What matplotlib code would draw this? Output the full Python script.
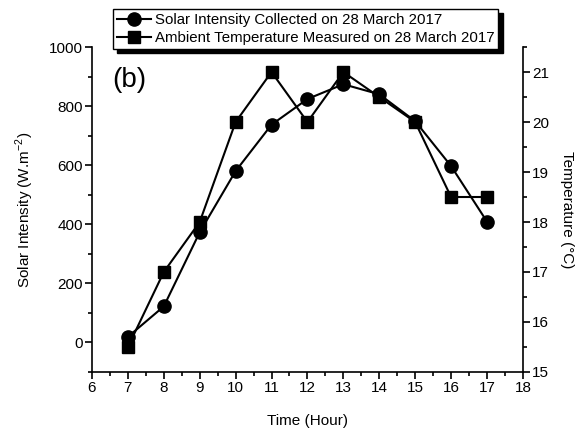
import matplotlib
matplotlib.use("Agg")
import matplotlib.pyplot as plt
from matplotlib.ticker import MultipleLocator

plt.rcParams['font.family'] = ['Liberation Sans', 'DejaVu Sans']
plt.rcParams['mathtext.fontset'] = 'custom'
plt.rcParams['mathtext.rm'] = 'Liberation Sans'

hours = [7, 8, 9, 10, 11, 12, 13, 14, 15, 16, 17]
solar = [19, 122, 373, 580, 737, 824, 874, 840, 749, 597, 409]
temperature = [15.5, 17.0, 18.0, 20.0, 21.0, 20.0, 21.0, 20.5, 20.0, 18.5, 18.5]

solar_label = "Solar Intensity Collected on 28 March 2017"
temp_label = "Ambient Temperature Measured on 28 March 2017"

fig = plt.figure(figsize=(5.81, 4.29), dpi=100)
ax = fig.add_axes([0.1583, 0.1329, 0.7417, 0.7575])
ax2 = ax.twinx()

l1, = ax.plot(hours, solar, color='black', lw=1.5, marker='o', ms=9.5,
              label=solar_label, clip_on=False, zorder=3)
l2, = ax2.plot(hours, temperature, color='black', lw=1.5, marker='s', ms=9,
               label=temp_label, clip_on=False, zorder=3)

ax.set_xlim(6, 18)
ax.set_ylim(-100, 1000)
ax2.set_ylim(15, 21.5)

ax.xaxis.set_major_locator(MultipleLocator(1))
ax.xaxis.set_minor_locator(MultipleLocator(0.5))
ax.yaxis.set_major_locator(MultipleLocator(200))
ax.yaxis.set_minor_locator(MultipleLocator(100))
ax2.yaxis.set_major_locator(MultipleLocator(1))
ax2.yaxis.set_minor_locator(MultipleLocator(0.5))

for a in (ax, ax2):
    a.spines['top'].set_visible(False)
    for s in a.spines.values():
        s.set_linewidth(1.2)
    a.tick_params(which='major', direction='out', length=5, width=1.2, labelsize=11, pad=1.5)
    a.tick_params(which='minor', direction='out', length=3, width=1.2)
ax.spines['right'].set_visible(False)
ax2.spines['left'].set_visible(False)
ax2.spines['bottom'].set_visible(False)

ax.set_xlabel("Time (Hour)", fontsize=11, labelpad=14)
ax.set_ylabel("Solar Intensity (W.m$^{-2}$)", fontsize=11, labelpad=9)
ax2.set_ylabel("Temperature (°C)", fontsize=11, rotation=270, labelpad=18)

ax.text(0.046, 0.90, "(b)", transform=ax.transAxes, fontsize=20,
        ha='left', va='center')

leg = fig.legend([l1, l2], [solar_label, temp_label], loc='upper left',
                 bbox_to_anchor=(113 / 581, 1 - 9 / 429), borderaxespad=0,
                 fontsize=10.8, frameon=True, fancybox=False,
                 shadow={'color': 'black', 'alpha': 1, 'ox': 3, 'oy': -3},
                 handlelength=2.3, handletextpad=0.25, borderpad=0.25,
                 labelspacing=0.3, markerscale=1.0)
leg.get_frame().set_edgecolor('black')
leg.get_frame().set_linewidth(1.0)
leg.get_frame().set_alpha(1)

fig.savefig("out.png", dpi=100)
